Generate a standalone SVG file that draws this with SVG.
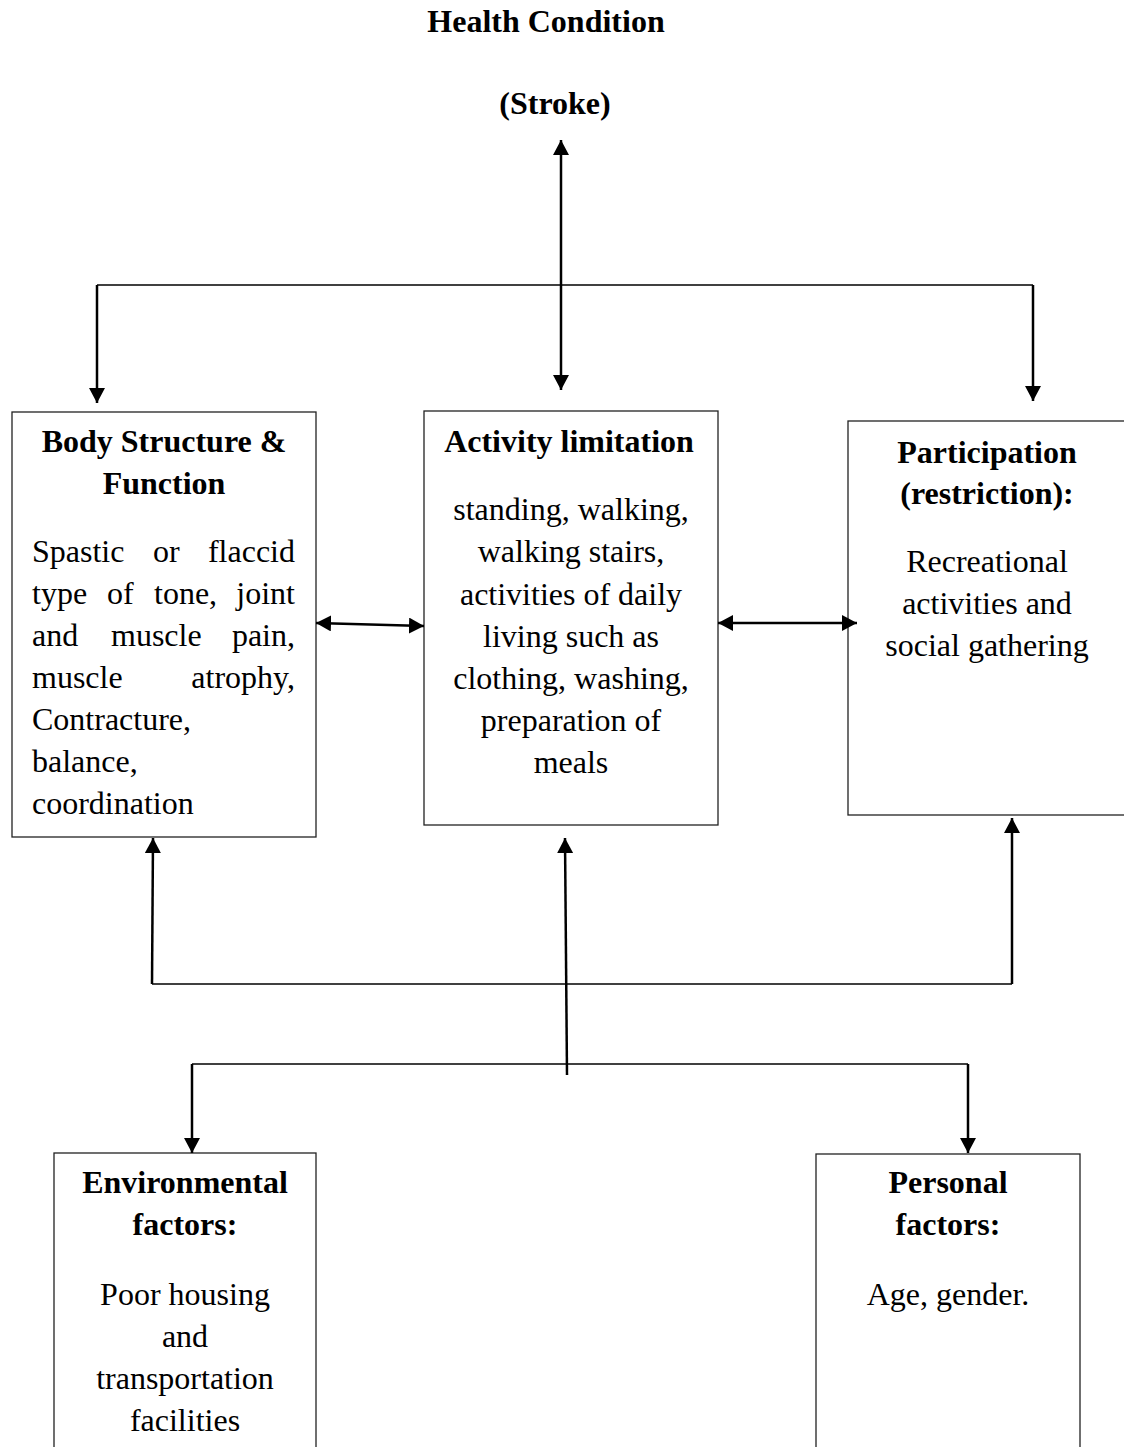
<svg xmlns="http://www.w3.org/2000/svg" width="1124" height="1447" viewBox="0 0 1124 1447">
<style>
text{font-family:"Liberation Serif","Times New Roman",serif;font-size:32px;fill:#000}
.b{font-weight:bold}
.c{text-anchor:middle}
.e{text-anchor:end}
.box{fill:#fff;stroke:#222;stroke-width:1.3}
.ln{fill:none;stroke:#000;stroke-width:1.5}
.ar{fill:none;stroke:#000;stroke-width:2.5}
</style>
<defs>
<marker id="ah" viewBox="0 0 15 16" refX="15" refY="8" markerWidth="15" markerHeight="16" markerUnits="userSpaceOnUse" orient="auto-start-reverse">
<path d="M0,0 L15,8 L0,16 Z" fill="#000"/>
</marker>
</defs>
<rect width="1124" height="1447" fill="#fff"/>

<g id="health">
<text class="b c" x="546" y="32">Health Condition</text>
<text class="b c" x="555" y="114">(Stroke)</text>
</g>

<g id="body">
<rect class="box" x="12" y="412" width="304" height="425"/>
<text class="b c" x="164" y="452">Body Structure &amp;</text>
<text class="b c" x="164" y="494">Function</text>
<text y="562"><tspan x="32">Spastic</tspan><tspan x="153">or</tspan></text>
<text class="e" x="295" y="562">flaccid</text>
<text y="604"><tspan x="32">type</tspan><tspan x="107">of</tspan><tspan x="154">tone,</tspan></text>
<text class="e" x="295" y="604">joint</text>
<text y="646"><tspan x="32">and</tspan><tspan x="111">muscle</tspan></text>
<text class="e" x="295" y="646">pain,</text>
<text x="32" y="688">muscle</text>
<text class="e" x="295" y="688">atrophy,</text>
<text x="32" y="730">Contracture,</text>
<text x="32" y="772">balance,</text>
<text x="32" y="814">coordination</text>
</g>

<g id="activity">
<rect class="box" x="424" y="411" width="294" height="414"/>
<text class="b c" x="569" y="452">Activity limitation</text>
<text class="c" x="571" y="520">standing, walking,</text>
<text class="c" x="571" y="562">walking stairs,</text>
<text class="c" x="571" y="605">activities of daily</text>
<text class="c" x="571" y="647">living such as</text>
<text class="c" x="571" y="689">clothing, washing,</text>
<text class="c" x="571" y="731">preparation of</text>
<text class="c" x="571" y="773">meals</text>
</g>

<g id="participation">
<rect class="box" x="848" y="421" width="290" height="394"/>
<text class="b c" x="987" y="463">Participation</text>
<text class="b c" x="987" y="504">(restriction):</text>
<text class="c" x="987" y="572">Recreational</text>
<text class="c" x="987" y="614">activities and</text>
<text class="c" x="987" y="656">social gathering</text>
</g>

<g id="environmental">
<rect class="box" x="54" y="1153" width="262" height="310"/>
<text class="b c" x="185" y="1193">Environmental</text>
<text class="b c" x="185" y="1235">factors:</text>
<text class="c" x="185" y="1305">Poor housing</text>
<text class="c" x="185" y="1347">and</text>
<text class="c" x="185" y="1389">transportation</text>
<text class="c" x="185" y="1431">facilities</text>
</g>

<g id="personal">
<rect class="box" x="816" y="1154" width="264" height="310"/>
<text class="b c" x="948" y="1193">Personal</text>
<text class="b c" x="948" y="1235">factors:</text>
<text class="c" x="948" y="1305">Age, gender.</text>
</g>

<g id="connectors">
<path class="ln" d="M97,285 H1033"/>
<path class="ar" d="M561,140 V390" marker-start="url(#ah)" marker-end="url(#ah)"/>
<path class="ar" d="M97,285 V403" marker-end="url(#ah)"/>
<path class="ar" d="M1033,285 V401" marker-end="url(#ah)"/>
<path class="ar" d="M316,623 L424,626" marker-start="url(#ah)" marker-end="url(#ah)"/>
<path class="ar" d="M718,623 H857" marker-start="url(#ah)" marker-end="url(#ah)"/>
<path class="ln" d="M152,984 H1012"/>
<path class="ar" d="M152,984 L153,838" marker-end="url(#ah)"/>
<path class="ar" d="M1012,984 V818" marker-end="url(#ah)"/>
<path class="ar" d="M567,1075 L565,838" marker-end="url(#ah)"/>
<path class="ln" d="M192,1064 H968"/>
<path class="ar" d="M192,1064 V1153" marker-end="url(#ah)"/>
<path class="ar" d="M968,1064 V1153" marker-end="url(#ah)"/>
</g>
</svg>
